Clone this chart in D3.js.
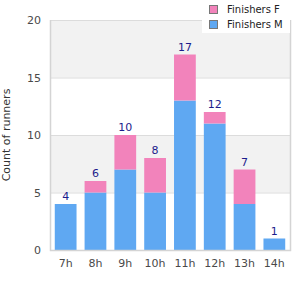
<!DOCTYPE html>
<html lang="en">
<meta charset="utf-8">
<script src="https://d3js.org/d3.v7.min.js"></script>
<style>
  body { margin: 0; background: #fff; }
  text { font-family: "DejaVu Sans", sans-serif; }
</style>
<body>
<svg width="300" height="300"></svg>
<script>
// data
var hours = ["7h", "8h", "9h", "10h", "11h", "12h", "13h", "14h"];
var finishersM = [4, 5, 7, 5, 13, 11, 4, 1];
var finishersF = [0, 1, 3, 3, 4, 1, 3, 0];
var yTicks = [0, 5, 10, 15, 20];
var seriesNames = ["Finishers F", "Finishers M"];

var blue = "#5fa8f2", pink = "#f283bb";

var svg = d3.select("svg");
var pLeft = 50, pRight = 290, pTop = 20, pBottom = 250;

var x = d3.scaleBand().domain(hours).range([pLeft, pRight]).paddingInner(0.27).paddingOuter(0.16);
var y = d3.scaleLinear().domain([0, 20]).range([pBottom, pTop]);

// alternating bands
for (var i = 0; i < yTicks.length - 1; i++) {
  svg.append("rect")
    .attr("x", pLeft).attr("width", pRight - pLeft)
    .attr("y", y(yTicks[i + 1])).attr("height", y(yTicks[i]) - y(yTicks[i + 1]))
    .attr("fill", i % 2 == 1 ? "#f2f2f2" : "#fff");
}
svg.selectAll(".grid").data(yTicks).enter().append("line")
  .attr("x1", pLeft).attr("x2", pRight)
  .attr("y1", d => y(d) + 0.5).attr("y2", d => y(d) + 0.5)
  .attr("stroke", "#dcdcdc");

// bars
var rows = hours.map((h, i) => ({ h: h, m: finishersM[i], f: finishersF[i] }));
svg.selectAll(".m").data(rows).enter().append("rect")
  .attr("x", d => x(d.h)).attr("width", x.bandwidth())
  .attr("y", d => y(d.m)).attr("height", d => y(0) - y(d.m))
  .attr("fill", blue);
svg.selectAll(".f").data(rows.filter(d => d.f > 0)).enter().append("rect")
  .attr("x", d => x(d.h)).attr("width", x.bandwidth())
  .attr("y", d => y(d.m + d.f)).attr("height", d => y(d.m) - y(d.m + d.f))
  .attr("fill", pink);
svg.selectAll(".tot").data(rows).enter().append("text")
  .attr("x", d => x(d.h) + x.bandwidth() / 2)
  .attr("y", d => y(d.m + d.f) - 4)
  .attr("text-anchor", "middle").attr("font-size", 11).attr("fill", "#1c1c8c")
  .text(d => d.m + d.f);

// frame
svg.append("path")
  .attr("d", "M" + (pLeft + 0.5) + "," + pTop + "V" + (pBottom + 0.5) + "H" + (pRight + 0.5) + "V" + pTop)
  .attr("fill", "none").attr("stroke", "#d4d4d4").attr("stroke-width", 1.5);

// axes labels
svg.selectAll(".yt").data(yTicks).enter().append("text")
  .attr("x", pLeft - 9).attr("y", d => y(d) + 4)
  .attr("text-anchor", "end").attr("font-size", 11).attr("fill", "#4a4a4a")
  .text(d => d);
svg.selectAll(".xt").data(hours).enter().append("text")
  .attr("x", d => x(d) + x.bandwidth() / 2).attr("y", 267)
  .attr("text-anchor", "middle").attr("font-size", 11).attr("fill", "#4a4a4a")
  .text(d => d);
svg.append("text")
  .attr("transform", "translate(10," + ((pTop + pBottom) / 2) + ") rotate(-90)")
  .attr("text-anchor", "middle").attr("font-size", 11).attr("fill", "#333")
  .text("Count of runners");

// legend
var lg = svg.append("g");
lg.append("rect").attr("x", 202).attr("y", 0).attr("width", 88).attr("height", 33).attr("fill", "#fff");
seriesNames.forEach(function(name, i) {
  lg.append("rect").attr("x", 209.5).attr("y", 5.5 + i * 15).attr("width", 8).attr("height", 8)
    .attr("fill", i == 0 ? pink : blue).attr("stroke", "#777");
  lg.append("text").attr("x", 227).attr("y", 13 + i * 15)
    .attr("font-size", 10).attr("fill", "#222").text(name);
});
</script>
</body>
</html>
